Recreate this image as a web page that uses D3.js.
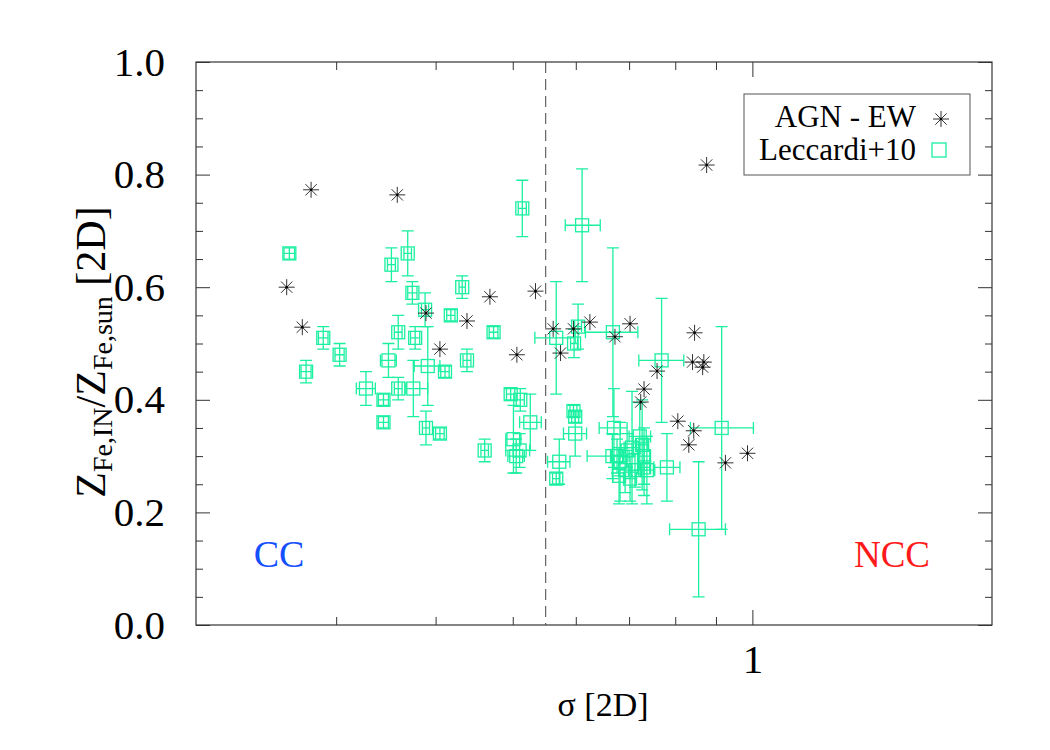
<!DOCTYPE html>
<html>
<head>
<meta charset="utf-8">
<script src="https://cdn.jsdelivr.net/npm/d3@7"></script>
<style>
  body { margin: 0; background: #fff; }
  text { font-family: "Liberation Serif", "Times New Roman", serif; }
</style>
</head>
<body>
<div id="viz"></div>
<script>
// AGN - EW (asterisks)
const agnX = [0.260, 0.279, 0.272, 0.358, 0.389, 0.405, 0.438, 0.468, 0.506, 0.534,
              0.562, 0.574, 0.596, 0.625, 0.672, 0.702, 0.846, 0.841, 0.869, 0.866,
              0.759, 0.731, 0.724, 0.806, 0.844, 0.832, 0.986, 0.925, 0.876];
const agnY = [0.600, 0.773, 0.529, 0.764, 0.554, 0.490, 0.540, 0.583, 0.480, 0.593,
              0.526, 0.483, 0.526, 0.538, 0.512, 0.535, 0.519, 0.467, 0.467, 0.458,
              0.451, 0.419, 0.396, 0.362, 0.345, 0.320, 0.305, 0.288, 0.817];

// Leccardi+10 (squares with error bars)
const leccX   = [0.262, 0.275, 0.289, 0.303, 0.327, 0.344, 0.344, 0.349, 0.352, 0.359,
                 0.359, 0.369, 0.374, 0.375, 0.377, 0.388, 0.389, 0.391, 0.405, 0.411,
                 0.418, 0.432, 0.438, 0.461, 0.473, 0.497, 0.501, 0.505, 0.510, 0.511,
                 0.514, 0.526, 0.567, 0.567, 0.572, 0.596, 0.599, 0.597, 0.604, 0.599,
                 0.611, 0.668, 0.670, 0.667, 0.676, 0.682, 0.696, 0.692, 0.706, 0.712,
                 0.722, 0.727, 0.731, 0.737, 0.680, 0.702, 0.731, 0.781, 0.769, 0.915,
                 0.856];
const leccY   = [0.66, 0.45, 0.51, 0.48, 0.42, 0.40, 0.36, 0.47, 0.64, 0.52,
                 0.42, 0.66, 0.59, 0.42, 0.51, 0.56, 0.35, 0.46, 0.34, 0.45,
                 0.55, 0.60, 0.47, 0.31, 0.52, 0.41, 0.33, 0.30, 0.31, 0.40,
                 0.74, 0.36, 0.51, 0.26, 0.29, 0.38, 0.37, 0.50, 0.53, 0.34,
                 0.71, 0.52, 0.35, 0.30, 0.30, 0.29, 0.31, 0.275, 0.315, 0.275,
                 0.335, 0.32, 0.30, 0.275, 0.265, 0.26, 0.28, 0.28, 0.47, 0.35,
                 0.17];
const leccYErr = [0.01, 0.02, 0.02, 0.02, 0.03, 0.01, 0.01, 0.03, 0.03, 0.03,
                  0.02, 0.04, 0.02, 0.05, 0.02, 0.03, 0.03, 0.07, 0.01, 0.01,
                  0.01, 0.02, 0.02, 0.02, 0.01, 0.01, 0.06, 0.03, 0.03, 0.02,
                  0.05, 0.05, 0.10, 0.01, 0.04, 0.01, 0.01, 0.025, 0.04, 0.04,
                  0.10, 0.15, 0.07, 0.04, 0.03, 0.07, 0.03, 0.04, 0.10, 0.03,
                  0.06, 0.08, 0.05, 0.06, 0.05, 0.04, 0.05, 0.06, 0.11, 0.18,
                  0.12];
const leccXLo = [0.258, 0.271, 0.285, 0.299, 0.318, 0.339, 0.339, 0.341, 0.348, 0.355,
                 0.355, 0.365, 0.369, 0.367, 0.372, 0.384, 0.385, 0.376, 0.400, 0.406,
                 0.413, 0.428, 0.433, 0.456, 0.467, 0.491, 0.490, 0.493, 0.490, 0.505,
                 0.508, 0.510, 0.533, 0.561, 0.553, 0.590, 0.593, 0.591, 0.598, 0.579,
                 0.582, 0.617, 0.642, 0.620, 0.665, 0.670, 0.684, 0.680, 0.690, 0.700,
                 0.700, 0.715, 0.719, 0.720, 0.668, 0.690, 0.719, 0.752, 0.720, 0.836,
                 0.787];
const leccXHi = [0.266, 0.279, 0.293, 0.307, 0.336, 0.349, 0.349, 0.357, 0.356, 0.363,
                 0.363, 0.373, 0.379, 0.391, 0.382, 0.392, 0.393, 0.405, 0.410, 0.416,
                 0.423, 0.436, 0.443, 0.466, 0.479, 0.503, 0.512, 0.517, 0.525, 0.517,
                 0.520, 0.543, 0.599, 0.573, 0.590, 0.602, 0.605, 0.603, 0.610, 0.619,
                 0.644, 0.718, 0.696, 0.700, 0.687, 0.694, 0.708, 0.704, 0.722, 0.724,
                 0.745, 0.739, 0.743, 0.754, 0.692, 0.714, 0.743, 0.811, 0.820, 1.003,
                 0.925];

const xMinorTicks = [0.3, 0.4, 0.5, 0.6, 0.7, 0.8, 0.9];
const xMajorTicks = [1];
const yMajorTicks = [0, 0.2, 0.4, 0.6, 0.8, 1.0];
const yMinorTicks = [0.05, 0.1, 0.15, 0.25, 0.3, 0.35, 0.45, 0.5, 0.55,
                     0.65, 0.7, 0.75, 0.85, 0.9, 0.95];
const sigmaSplit = 0.55;

const width = 1050, height = 750,
      margin = {left: 196, right: 58, top: 62, bottom: 125},
      w = width - margin.left - margin.right,
      h = height - margin.top - margin.bottom,
      green = "#1af0a0", frame = "#333";

const svg = d3.select("#viz").append("svg")
  .attr("width", width).attr("height", height)
  .append("g")
  .attr("transform", `translate(${margin.left},${margin.top})`);

const x = d3.scaleLog().domain([0.2, 2]).range([0, w]);
const y = d3.scaleLinear().domain([0, 1]).range([h, 0]);

// frame
svg.append("rect").attr("width", w).attr("height", h)
  .style("fill", "none").style("stroke", frame).style("stroke-width", 1.2);

function styleAxis(g){
  g.select(".domain").remove();
  g.selectAll(".tick line").style("stroke", frame).style("stroke-width", 1);
  g.selectAll(".tick text").style("font-family", "Liberation Serif")
    .style("font-size", "41px").style("fill", "#000");
}

// x axes (bottom labelled, top mirrored)
svg.append("g").attr("transform", `translate(0,${h})`)
  .call(d3.axisBottom(x).tickValues(xMinorTicks).tickSize(-8).tickFormat("")).call(styleAxis);
svg.append("g").attr("transform", `translate(0,${h})`)
  .call(d3.axisBottom(x).tickValues(xMajorTicks).tickSize(-15).tickPadding(19).tickFormat(d3.format("d")))
  .call(styleAxis);
svg.append("g")
  .call(d3.axisTop(x).tickValues(xMinorTicks).tickSize(-8).tickFormat("")).call(styleAxis);
svg.append("g")
  .call(d3.axisTop(x).tickValues(xMajorTicks).tickSize(-15).tickFormat("")).call(styleAxis);

// y axes (left labelled, right mirrored)
svg.append("g")
  .call(d3.axisLeft(y).tickValues(yMajorTicks).tickSize(-14).tickPadding(31).tickFormat(d3.format(".1f")))
  .call(styleAxis);
svg.append("g")
  .call(d3.axisLeft(y).tickValues(yMinorTicks).tickSize(-7).tickFormat("")).call(styleAxis);
svg.append("g").attr("transform", `translate(${w},0)`)
  .call(d3.axisRight(y).tickValues(yMajorTicks).tickSize(-14).tickFormat("")).call(styleAxis);
svg.append("g").attr("transform", `translate(${w},0)`)
  .call(d3.axisRight(y).tickValues(yMinorTicks).tickSize(-7).tickFormat("")).call(styleAxis);

// dashed divider
svg.append("line")
  .attr("x1", x(sigmaSplit)).attr("x2", x(sigmaSplit))
  .attr("y1", 0).attr("y2", h)
  .style("stroke", "#444").style("stroke-width", 1).style("stroke-dasharray", "11,6");

// Leccardi points with error bars
const lecc = leccX.map((d, i) => ({x: d, y: leccY[i], ye: leccYErr[i], xlo: leccXLo[i], xhi: leccXHi[i]}));
const cap = 6, half = 6.5;
const eb = svg.append("g").style("stroke", green).style("stroke-width", 1.3).style("fill", "none");
lecc.forEach(d => {
  const cx = x(d.x), cy = y(d.y),
        y0 = y(d.y - d.ye), y1 = y(d.y + d.ye),
        x0 = x(d.xlo), x1 = x(d.xhi);
  eb.append("path").attr("d",
    `M${cx},${y0}V${y1}M${cx - cap},${y0}H${cx + cap}M${cx - cap},${y1}H${cx + cap}` +
    `M${x0},${cy}H${x1}M${x0},${cy - cap}V${cy + cap}M${x1},${cy - cap}V${cy + cap}`);
  eb.append("rect").attr("x", cx - half).attr("y", cy - half)
    .attr("width", 2 * half).attr("height", 2 * half);
});

// asterisk symbol
function asterisk(g, cx, cy, r){
  const d = r * Math.SQRT1_2;
  g.append("path")
    .attr("d", `M${cx - r},${cy}H${cx + r}M${cx},${cy - r}V${cy + r}` +
               `M${cx - d},${cy - d}L${cx + d},${cy + d}M${cx - d},${cy + d}L${cx + d},${cy - d}`)
    .style("stroke", "#333").style("stroke-width", 1).style("fill", "none");
  g.append("circle").attr("cx", cx).attr("cy", cy).attr("r", 1.3).style("fill", "#000");
}
const ag = svg.append("g");
agnX.forEach((d, i) => asterisk(ag, x(d), y(agnY[i]), 8));

// CC / NCC labels
svg.append("text").attr("x", 83).attr("y", 505).attr("text-anchor", "middle")
  .style("font-size", "38px").style("fill", "#1450ff").text("CC");
svg.append("text").attr("x", 696).attr("y", 505).attr("text-anchor", "middle")
  .style("font-size", "37px").style("fill", "#ff1a1a").text("NCC");

// legend
const lg = d3.select("svg").append("g");
lg.append("rect").attr("x", 744).attr("y", 94).attr("width", 226).attr("height", 81)
  .style("fill", "#fff").style("stroke", "#555").style("stroke-width", 1);
lg.append("text").attr("x", 916).attr("y", 127).attr("text-anchor", "end")
  .style("font-size", "31px").text("AGN - EW");
lg.append("text").attr("x", 916).attr("y", 160).attr("text-anchor", "end")
  .style("font-size", "31px").text("Leccardi+10");
asterisk(lg, 941, 119, 8);
lg.append("rect").attr("x", 932).attr("y", 143).attr("width", 14).attr("height", 14)
  .style("fill", "none").style("stroke", green).style("stroke-width", 1.3);

// axis titles
d3.select("svg").append("text").attr("x", 603).attr("y", 716).attr("text-anchor", "middle")
  .style("font-size", "34px").text("σ [2D]");

const yl = d3.select("svg").append("text")
  .attr("transform", "translate(105,352) rotate(-90)")
  .attr("text-anchor", "middle").style("font-size", "42px");
yl.append("tspan").text("Z");
yl.append("tspan").attr("dy", 7).style("font-size", "28px").text("Fe,IN");
yl.append("tspan").attr("dy", -7).text("/Z");
yl.append("tspan").attr("dy", 7).style("font-size", "28px").text("Fe,sun");
yl.append("tspan").attr("dy", -7).text(" [2D]");
</script>
</body>
</html>
